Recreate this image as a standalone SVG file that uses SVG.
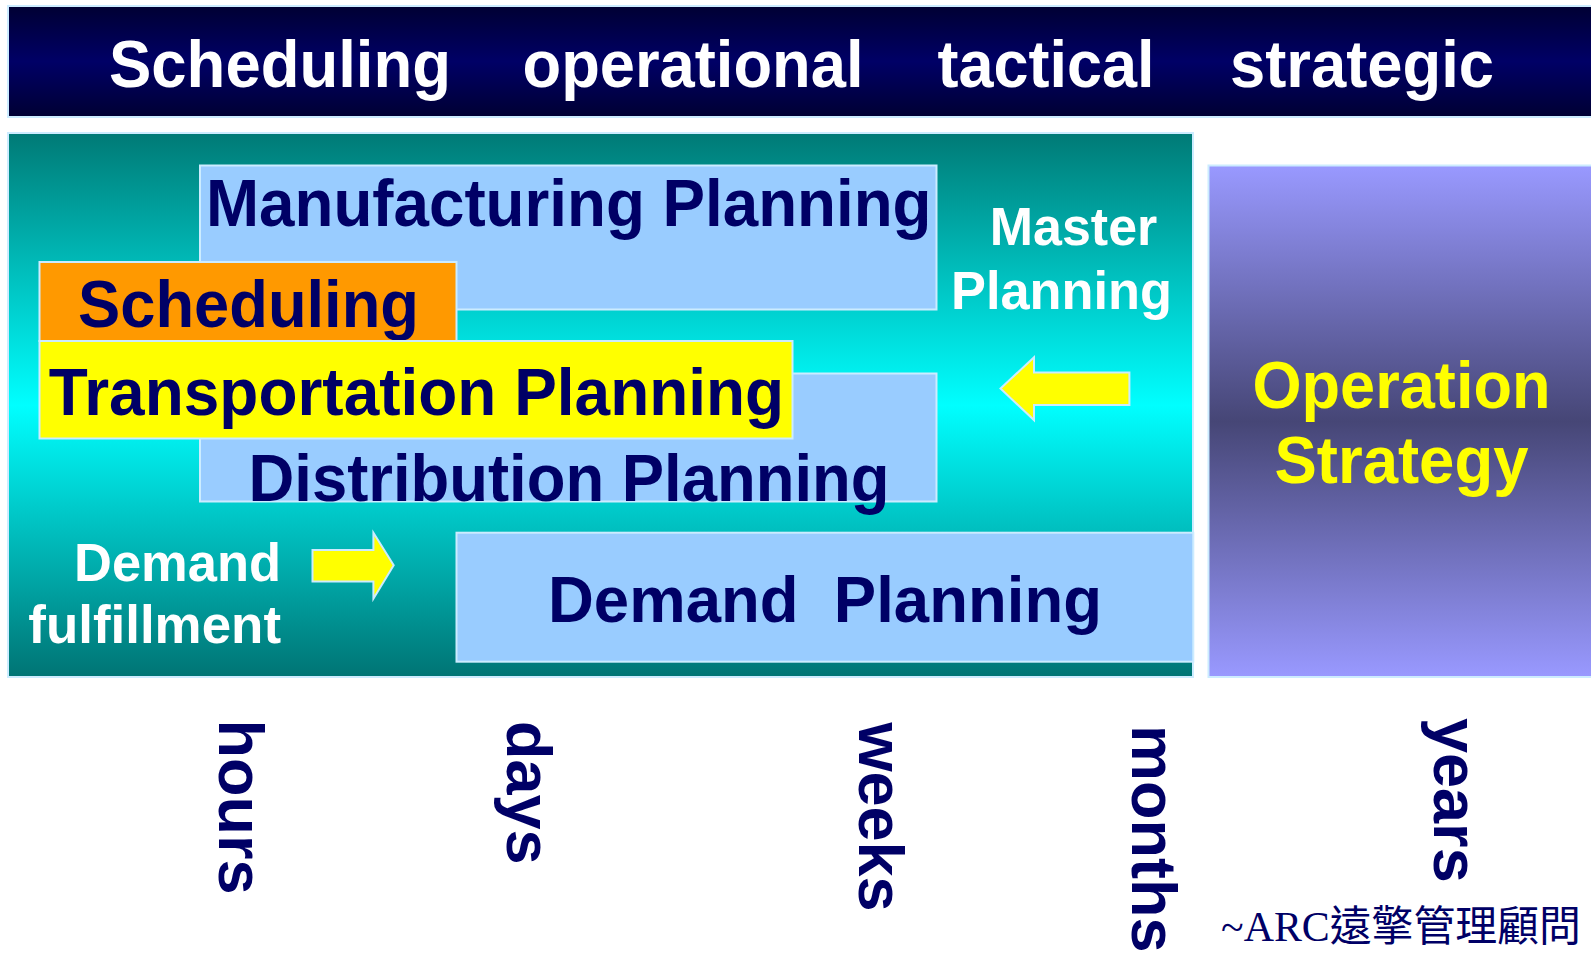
<svg xmlns="http://www.w3.org/2000/svg" width="1591" height="955" viewBox="0 0 1591 955">
<defs>
<linearGradient id="gHead" x1="0" y1="0" x2="0" y2="1">
<stop offset="0" stop-color="#000033"/>
<stop offset="0.5" stop-color="#000066"/>
<stop offset="1" stop-color="#000033"/>
</linearGradient>
<linearGradient id="gTeal" x1="0" y1="0" x2="0" y2="1">
<stop offset="0" stop-color="#007a76"/>
<stop offset="0.5" stop-color="#00ffff"/>
<stop offset="1" stop-color="#007474"/>
</linearGradient>
<linearGradient id="gPurple" x1="0" y1="0" x2="0" y2="1">
<stop offset="0" stop-color="#9999ff"/>
<stop offset="0.5" stop-color="#464676"/>
<stop offset="1" stop-color="#9999ff"/>
</linearGradient>
</defs>
<style>
.t{font-family:"Liberation Sans",Arial,sans-serif;font-weight:bold}
.w{fill:#ffffff}
.n{fill:#000066}
.y{fill:#ffff00}
.box{stroke:#ccecff;stroke-width:2}
.blue{fill:#99ccff}
.arrow{fill:#ffff00;stroke:#ccecff;stroke-width:2}
.v{font-size:63px}
</style>
<rect width="1591" height="955" fill="#ffffff"/>

<g id="header">
<rect class="box" x="8" y="6" width="1600" height="111" fill="url(#gHead)"/>
<text class="t w" x="109" y="86.5" font-size="66" textLength="342" lengthAdjust="spacingAndGlyphs">Scheduling</text>
<text class="t w" x="522.5" y="86.5" font-size="66" textLength="341" lengthAdjust="spacingAndGlyphs">operational</text>
<text class="t w" x="937.5" y="86.5" font-size="66" textLength="217" lengthAdjust="spacingAndGlyphs">tactical</text>
<text class="t w" x="1230" y="86.5" font-size="66" textLength="264" lengthAdjust="spacingAndGlyphs">strategic</text>
</g>

<g id="panel">
<rect class="box" x="8" y="133" width="1185" height="544" fill="url(#gTeal)"/>
</g>

<g id="operation-strategy">
<rect class="box" x="1208.5" y="165.5" width="400" height="511.5" fill="url(#gPurple)"/>
<text class="t y" x="1401.5" y="408" font-size="66" text-anchor="middle" textLength="298" lengthAdjust="spacingAndGlyphs">Operation</text>
<text class="t y" x="1401.5" y="483" font-size="66" text-anchor="middle" textLength="254" lengthAdjust="spacingAndGlyphs">Strategy</text>
</g>

<g id="manufacturing-planning">
<rect class="box blue" x="200" y="165.5" width="736.5" height="144"/>
<text class="t n" x="206" y="225.5" font-size="67" textLength="725.5" lengthAdjust="spacingAndGlyphs">Manufacturing Planning</text>
</g>

<g id="distribution-planning">
<rect class="box blue" x="200" y="373.5" width="736.5" height="128"/>
<text class="t n" x="248.5" y="500.5" font-size="67" textLength="641" lengthAdjust="spacingAndGlyphs">Distribution Planning</text>
</g>

<g id="scheduling">
<rect class="box" x="39.5" y="262" width="417" height="79" fill="#ff9900"/>
<text class="t n" x="78" y="327" font-size="67" textLength="341" lengthAdjust="spacingAndGlyphs">Scheduling</text>
</g>

<g id="transportation-planning">
<rect class="box" x="39.5" y="341" width="753" height="97.5" fill="#ffff00"/>
<text class="t n" x="48.7" y="415" font-size="67" textLength="735.5" lengthAdjust="spacingAndGlyphs">Transportation Planning</text>
</g>

<g id="demand-planning">
<rect class="box blue" x="456.5" y="532.7" width="736.8" height="129"/>
<text class="t n" x="548" y="622" font-size="65" xml:space="preserve" style="white-space:pre" textLength="554" lengthAdjust="spacingAndGlyphs">Demand  Planning</text>
</g>

<g id="master-planning">
<text class="t w" x="1073.5" y="244.5" font-size="54" text-anchor="middle" textLength="167.5" lengthAdjust="spacingAndGlyphs">Master</text>
<text class="t w" x="1061.5" y="308.5" font-size="54" text-anchor="middle" textLength="221" lengthAdjust="spacingAndGlyphs">Planning</text>
</g>

<g id="demand-fulfillment">
<text class="t w" x="281" y="580.5" font-size="54" text-anchor="end" textLength="207" lengthAdjust="spacingAndGlyphs">Demand</text>
<text class="t w" x="281" y="643.3" font-size="54" text-anchor="end" textLength="252.7" lengthAdjust="spacingAndGlyphs">fulfillment</text>
</g>

<g id="connectors">
<polygon class="arrow" points="1000.5,388.6 1034,357.2 1034,372.4 1129.4,372.4 1129.4,404.9 1034,404.9 1034,420.1"/>
<polygon class="arrow" points="312.5,550 373.4,550 373.4,532.7 393.7,565.2 373.4,598.7 373.4,581.4 312.5,581.4"/>
</g>

<g id="time-axis">
<text class="t n v" transform="translate(219,719.5) rotate(90)">hours</text>
<text class="t n v" transform="translate(507,721) rotate(90)">days</text>
<text class="t n v" transform="translate(859,722.5) rotate(90)">weeks</text>
<text class="t n v" transform="translate(1132,725) rotate(90)">months</text>
<text class="t n v" transform="translate(1433.5,718) rotate(90)">years</text>
</g>

<g id="credit">
<text x="1221" y="941" font-size="42" fill="#000066" font-family="'Liberation Serif','Noto Sans CJK TC',serif" textLength="360" lengthAdjust="spacingAndGlyphs">~ARC遠擎管理顧問</text>
</g>
</svg>
